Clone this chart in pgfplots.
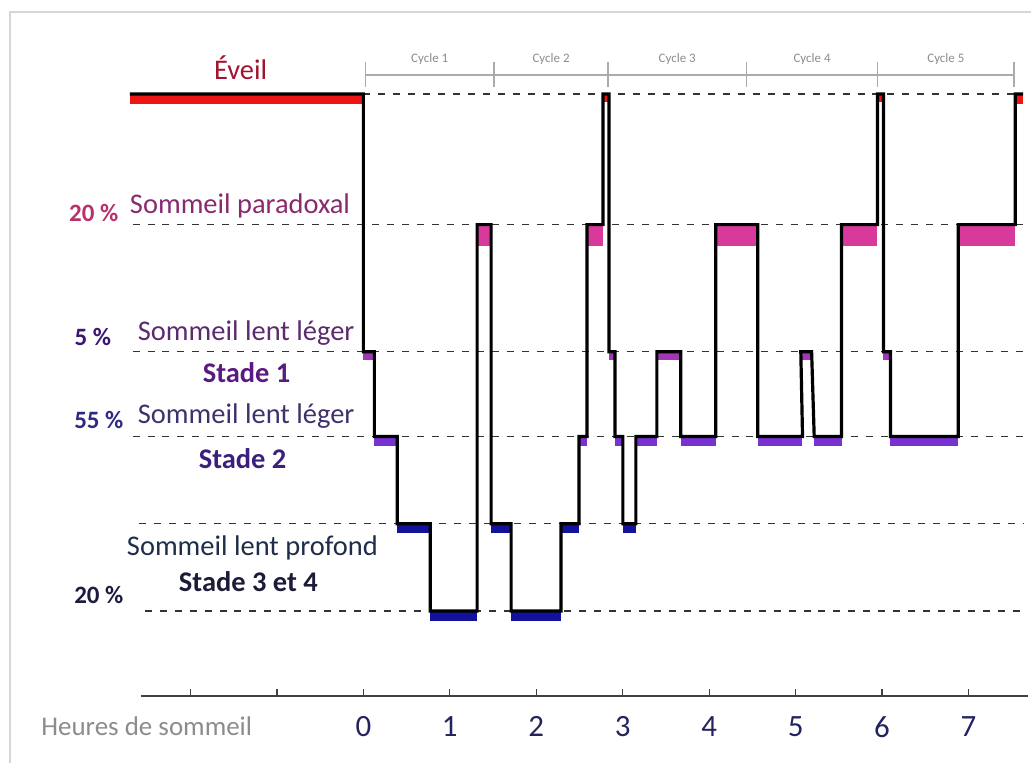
\documentclass[border=0pt]{standalone}
\usepackage{pgfplots}
\pgfplotsset{compat=1.18}
\usepackage{fontspec}
\setmainfont{Carlito}
\definecolor{cE}{HTML}{EE1515}
\definecolor{cR}{HTML}{D83A9C}
\definecolor{cS1}{HTML}{A236B6}
\definecolor{cS2}{HTML}{7832CF}
\definecolor{cS3}{HTML}{12129C}
\definecolor{lvl}{HTML}{333333}
\definecolor{cyc}{HTML}{ABABAB}
\definecolor{tE}{HTML}{A3122E}
\definecolor{tRp}{HTML}{B8306C}
\definecolor{tR}{HTML}{8A2A6E}
\definecolor{t1p}{HTML}{3A1670}
\definecolor{t1}{HTML}{5B2B6E}
\definecolor{t1s}{HTML}{5A1A82}
\definecolor{t2p}{HTML}{2E2A82}
\definecolor{t2}{HTML}{40306C}
\definecolor{t2s}{HTML}{3B1F7C}
\definecolor{t3}{HTML}{1F2D4A}
\definecolor{t3s}{HTML}{1C1C38}
\definecolor{t3p}{HTML}{1C1C3E}
\definecolor{thr}{HTML}{23235E}
\newcommand\fs[1]{\fontsize{#1}{#1}\selectfont}
\begin{document}
\begin{tikzpicture}
\begin{axis}[x=86.6pt, y=86.6pt, xmin=-4.2032, xmax=7.7136, ymin=-0.7737, ymax=8.0485,
  scale only axis, axis lines=none, clip=false, ticks=none]
\path (rel axis cs:0,0) rectangle (rel axis cs:1,1);
% frame
\addplot[color=black!16, line width=2.5pt] coordinates {(-4.088,-0.78) (-4.088,7.91) (7.72,7.91)};
% level lines
\addplot[lvl, line width=1.3pt, dash pattern=on 7pt off 8pt] coordinates {(0,6.96) (7.63,6.96)};
\addplot[lvl, line width=1.3pt, dash pattern=on 7pt off 8pt] coordinates {(-2.67,5.45) (7.63,5.45)};
\addplot[lvl, line width=1.3pt, dash pattern=on 7pt off 8pt] coordinates {(-2.67,3.98) (7.63,3.98)};
\addplot[lvl, line width=1.3pt, dash pattern=on 7pt off 8pt] coordinates {(-2.67,3.00) (7.63,3.00)};
\addplot[lvl, line width=1.3pt, dash pattern=on 7pt off 8pt] coordinates {(-2.59,1.99) (7.63,1.99)};
\addplot[lvl, line width=1.3pt, dash pattern=on 7pt off 8pt] coordinates {(-2.53,0.98) (7.63,0.98)};
% Eveil blocks
\addplot[fill=cE, draw=none] coordinates {(-2.70,6.96) (0,6.96) (0,6.845) (-2.70,6.845)} --cycle;
\addplot[fill=cE, draw=none] coordinates {(2.771,6.96) (2.841,6.96) (2.841,6.87) (2.771,6.87)} --cycle;
\addplot[fill=cE, draw=none] coordinates {(5.947,6.96) (6.016,6.96) (6.016,6.87) (5.947,6.87)} --cycle;
\addplot[fill=cE, draw=none] coordinates {(7.540,6.96) (7.633,6.96) (7.633,6.84) (7.540,6.84)} --cycle;
% REM blocks
\addplot[fill=cR, draw=none] coordinates {(1.316,5.45) (1.478,5.45) (1.478,5.20) (1.316,5.20)} --cycle;
\addplot[fill=cR, draw=none] coordinates {(2.587,5.45) (2.771,5.45) (2.771,5.20) (2.587,5.20)} --cycle;
\addplot[fill=cR, draw=none] coordinates {(4.076,5.45) (4.561,5.45) (4.561,5.20) (4.076,5.20)} --cycle;
\addplot[fill=cR, draw=none] coordinates {(5.531,5.45) (5.947,5.45) (5.947,5.20) (5.531,5.20)} --cycle;
\addplot[fill=cR, draw=none] coordinates {(6.882,5.45) (7.540,5.45) (7.540,5.20) (6.882,5.20)} --cycle;
% Stade 1 blocks
\addplot[fill=cS1, draw=none] coordinates {(0,3.98) (0.127,3.98) (0.127,3.88) (0,3.88)} --cycle;
\addplot[fill=cS1, draw=none] coordinates {(2.841,3.98) (2.910,3.98) (2.910,3.88) (2.841,3.88)} --cycle;
\addplot[fill=cS1, draw=none] coordinates {(3.395,3.98) (3.672,3.98) (3.672,3.88) (3.395,3.88)} --cycle;
\addplot[fill=cS1, draw=none] coordinates {(5.069,3.98) (5.185,3.98) (5.185,3.88) (5.069,3.88)} --cycle;
\addplot[fill=cS1, draw=none] coordinates {(6.016,3.98) (6.097,3.98) (6.097,3.88) (6.016,3.88)} --cycle;
% Stade 2 blocks
\addplot[fill=cS2, draw=none] coordinates {(0.127,3.00) (0.393,3.00) (0.393,2.89) (0.127,2.89)} --cycle;
\addplot[fill=cS2, draw=none] coordinates {(2.494,3.00) (2.587,3.00) (2.587,2.89) (2.494,2.89)} --cycle;
\addplot[fill=cS2, draw=none] coordinates {(2.910,3.00) (3.002,3.00) (3.002,2.89) (2.910,2.89)} --cycle;
\addplot[fill=cS2, draw=none] coordinates {(3.152,3.00) (3.395,3.00) (3.395,2.89) (3.152,2.89)} --cycle;
\addplot[fill=cS2, draw=none] coordinates {(3.672,3.00) (4.076,3.00) (4.076,2.89) (3.672,2.89)} --cycle;
\addplot[fill=cS2, draw=none] coordinates {(4.561,3.00) (5.069,3.00) (5.069,2.89) (4.561,2.89)} --cycle;
\addplot[fill=cS2, draw=none] coordinates {(5.210,3.00) (5.531,3.00) (5.531,2.89) (5.210,2.89)} --cycle;
\addplot[fill=cS2, draw=none] coordinates {(6.097,3.00) (6.882,3.00) (6.882,2.89) (6.097,2.89)} --cycle;
% Stade 3 blocks
\addplot[fill=cS3, draw=none] coordinates {(0.393,1.99) (0.774,1.99) (0.774,1.88) (0.393,1.88)} --cycle;
\addplot[fill=cS3, draw=none] coordinates {(1.478,1.99) (1.709,1.99) (1.709,1.88) (1.478,1.88)} --cycle;
\addplot[fill=cS3, draw=none] coordinates {(2.286,1.99) (2.494,1.99) (2.494,1.88) (2.286,1.88)} --cycle;
\addplot[fill=cS3, draw=none] coordinates {(3.002,1.99) (3.152,1.99) (3.152,1.88) (3.002,1.88)} --cycle;
% Stade 4 blocks
\addplot[fill=cS3, draw=none] coordinates {(0.774,0.98) (1.316,0.98) (1.316,0.86) (0.774,0.86)} --cycle;
\addplot[fill=cS3, draw=none] coordinates {(1.709,0.98) (2.286,0.98) (2.286,0.86) (1.709,0.86)} --cycle;
% hypnogram
\addplot[black, line width=3.2pt, line join=miter] coordinates {
(-2.70,6.96) (0,6.96) (0,3.98) (0.127,3.98) (0.127,3.00) (0.393,3.00) (0.393,1.99)
(0.774,1.99) (0.774,0.98) (1.316,0.98) (1.316,5.45) (1.478,5.45) (1.478,1.99)
(1.709,1.99) (1.709,0.98) (2.286,0.98) (2.286,1.99) (2.494,1.99) (2.494,3.00)
(2.587,3.00) (2.587,5.45) (2.771,5.45) (2.771,6.96) (2.841,6.96) (2.841,3.98)
(2.910,3.98) (2.910,3.00) (3.002,3.00) (3.002,1.99) (3.152,1.99) (3.152,3.00)
(3.395,3.00) (3.395,3.98) (3.672,3.98) (3.672,3.00) (4.076,3.00) (4.076,5.45)
(4.561,5.45) (4.561,3.00) (5.080,3.00) (5.060,3.98) (5.185,3.98) (5.215,3.00)
(5.531,3.00) (5.531,5.45) (5.947,5.45) (5.947,6.96) (6.016,6.96) (6.016,3.98)
(6.097,3.98) (6.097,3.00) (6.882,3.00) (6.882,5.45) (7.540,5.45) (7.540,6.96) (7.633,6.96)};
% cycle bracket
\addplot[cyc, line width=1.6pt] coordinates {(0.023,7.18) (7.529,7.18)};
\addplot[cyc, line width=1.6pt] coordinates {(0.023,7.04) (0.023,7.33)};
\addplot[cyc, line width=1.6pt] coordinates {(1.513,7.04) (1.513,7.33)};
\addplot[cyc, line width=1.6pt] coordinates {(2.829,7.04) (2.829,7.33)};
\addplot[cyc, line width=1.6pt] coordinates {(4.434,7.04) (4.434,7.33)};
\addplot[cyc, line width=1.6pt] coordinates {(5.947,7.04) (5.947,7.33)};
\addplot[cyc, line width=1.6pt] coordinates {(7.529,7.04) (7.529,7.33)};
\node[text=black!45, font=\fs{13}] at (axis cs:0.768,7.37) {Cycle 1};
\node[text=black!45, font=\fs{13}] at (axis cs:2.171,7.37) {Cycle 2};
\node[text=black!45, font=\fs{13}] at (axis cs:3.631,7.37) {Cycle 3};
\node[text=black!45, font=\fs{13}] at (axis cs:5.190,7.37) {Cycle 4};
\node[text=black!45, font=\fs{13}] at (axis cs:6.738,7.37) {Cycle 5};
% hour axis
\addplot[black!75, line width=1.5pt] coordinates {(-2.575,0) (7.69,0)};
\pgfplotsinvokeforeach{-2,...,7}{\addplot[black!75, line width=1.2pt] coordinates {(#1,0) (#1,0.08)};}
\pgfplotsinvokeforeach{0,...,7}{\node[text=thr, font=\fs{31}] at (axis cs:#1,-0.36) {#1};}
\node[text=black!45, font=\fs{27}] at (axis cs:-2.506,-0.358) {Heures de sommeil};
% stage labels
\node[text=tE, font=\fs{28.5}] at (axis cs:-1.420,7.263) {Éveil};
\node[text=tRp, font=\fs{25}\bfseries] at (axis cs:-3.118,5.589) {20 \%};
\node[anchor=west, inner sep=0pt, text=tR, font=\fs{28.5}] at (axis cs:-2.702,5.670) {Sommeil paradoxal};
\node[text=t1p, font=\fs{25}\bfseries] at (axis cs:-3.129,4.145) {5 \%};
\node[anchor=west, inner sep=0pt, text=t1, font=\fs{28.5}] at (axis cs:-2.610,4.192) {Sommeil lent léger};
\node[text=t1s, font=\fs{28.5}\bfseries] at (axis cs:-1.351,3.741) {Stade 1};
\node[text=t2p, font=\fs{25}\bfseries] at (axis cs:-3.060,3.187) {55 \%};
\node[anchor=west, inner sep=0pt, text=t2, font=\fs{28.5}] at (axis cs:-2.610,3.233) {Sommeil lent léger};
\node[text=t2s, font=\fs{28.5}\bfseries] at (axis cs:-1.397,2.748) {Stade 2};
\node[anchor=west, inner sep=0pt, text=t3, font=\fs{28.5}] at (axis cs:-2.737,1.709) {Sommeil lent profond};
\node[text=t3s, font=\fs{28.5}\bfseries] at (axis cs:-1.330,1.316) {Stade 3 et 4};
\node[text=t3p, font=\fs{25}\bfseries] at (axis cs:-3.060,1.166) {20 \%};
\end{axis}
\end{tikzpicture}
\end{document}
